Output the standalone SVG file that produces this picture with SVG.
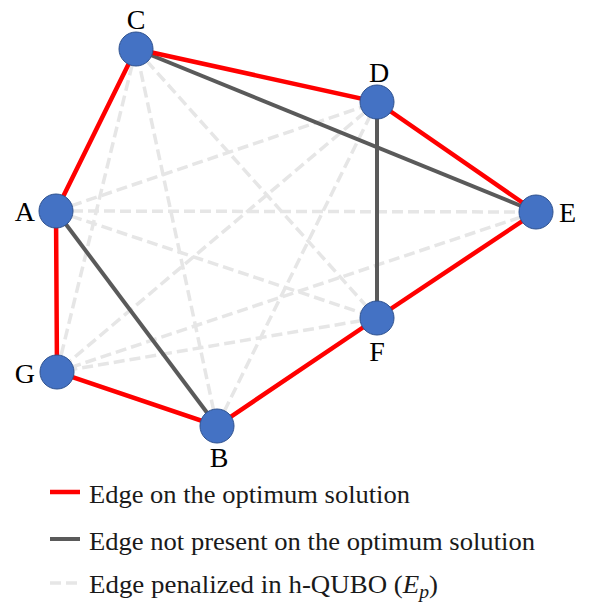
<svg xmlns="http://www.w3.org/2000/svg" width="592" height="606" viewBox="0 0 592 606">
<style>
.pen{stroke:#e6e6e6;stroke-width:3.5;stroke-dasharray:11 5;fill:none}
.gray{stroke:#5a5a5a;stroke-width:4;fill:none}
.red{stroke:#ff0000;stroke-width:4.5;fill:none}
.node{fill:#4472c4;stroke:#2f528f;stroke-width:1}
.lbl{font-family:"Liberation Serif","Times New Roman",serif;font-size:28px;fill:#000}
.leg{font-family:"Liberation Serif","Times New Roman",serif;font-size:26px;fill:#1a1a1a}
</style>
<rect width="592" height="606" fill="#ffffff"/>
<g id="connectors">
<g id="penalized">
<line class="pen" x1="56" y1="211" x2="377" y2="102"/>
<line class="pen" x1="56" y1="211" x2="536" y2="212"/>
<line class="pen" x1="56" y1="211" x2="377" y2="318"/>
<line class="pen" x1="217" y1="426" x2="136" y2="49"/>
<line class="pen" x1="217" y1="426" x2="377" y2="102"/>
<line class="pen" x1="217" y1="426" x2="536" y2="212"/>
<line class="pen" x1="136" y1="49" x2="377" y2="318"/>
<line class="pen" x1="136" y1="49" x2="57" y2="372"/>
<line class="pen" x1="377" y1="102" x2="57" y2="372"/>
<line class="pen" x1="536" y1="212" x2="57" y2="372"/>
<line class="pen" x1="377" y1="318" x2="57" y2="372"/>
</g>
<g id="not-optimum">
<line class="gray" x1="136" y1="49" x2="536" y2="212"/>
<line class="gray" x1="377" y1="102" x2="377" y2="318"/>
<line class="gray" x1="56" y1="211" x2="217" y2="426"/>
</g>
<g id="optimum">
<polyline class="red" points="136,49 377,102 536,212 377,318 217,426 57,372 56,211 136,49"/>
</g>
</g>
<g id="node-C"><circle class="node" cx="136" cy="49" r="17"/><text class="lbl" x="136" y="29" text-anchor="middle">C</text></g>
<g id="node-D"><circle class="node" cx="377" cy="102" r="17"/><text class="lbl" x="379" y="82" text-anchor="middle">D</text></g>
<g id="node-E"><circle class="node" cx="536" cy="212" r="17"/><text class="lbl" x="559" y="222">E</text></g>
<g id="node-A"><circle class="node" cx="56" cy="211" r="17"/><text class="lbl" x="35" y="221" text-anchor="end">A</text></g>
<g id="node-F"><circle class="node" cx="377" cy="318" r="17"/><text class="lbl" x="377" y="361" text-anchor="middle">F</text></g>
<g id="node-G"><circle class="node" cx="57" cy="372" r="17"/><text class="lbl" x="35" y="383" text-anchor="end">G</text></g>
<g id="node-B"><circle class="node" cx="217" cy="426" r="17"/><text class="lbl" x="219" y="467" text-anchor="middle">B</text></g>
<g id="legend">
<line class="red" x1="50" y1="492" x2="80" y2="492"/>
<text class="leg" x="89" y="503" textLength="321" lengthAdjust="spacingAndGlyphs">Edge on the optimum solution</text>
<line class="gray" x1="50" y1="539" x2="80" y2="539"/>
<text class="leg" x="89" y="550" textLength="446" lengthAdjust="spacingAndGlyphs">Edge not present on the optimum solution</text>
<line class="pen" x1="50" y1="583" x2="80" y2="583" stroke-dasharray="13 4"/>
<text class="leg" x="89" y="593" textLength="349" lengthAdjust="spacingAndGlyphs">Edge penalized in h-QUBO (<tspan font-style="italic">E</tspan><tspan font-style="italic" font-size="19" dy="5">p</tspan><tspan dy="-5">)</tspan></text>
</g>
</svg>
